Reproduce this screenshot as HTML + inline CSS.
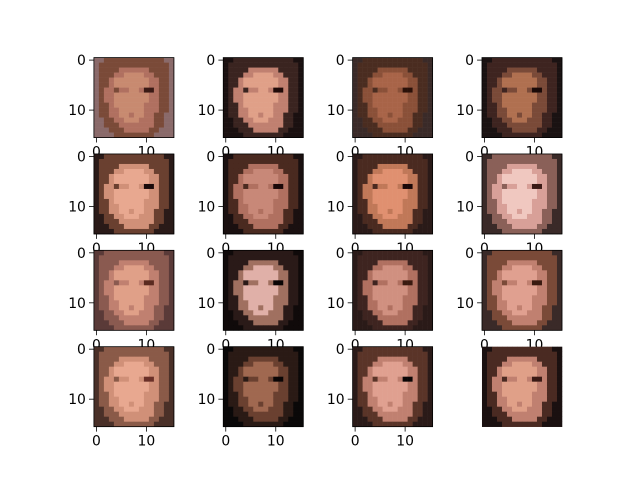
<!DOCTYPE html>
<html><head><meta charset="utf-8"><style>
body{margin:0;background:#fff}
svg text{font-family:"DejaVu Sans","Liberation Sans",sans-serif;font-size:13.9px;fill:#000}
</style></head><body>
<svg id="fig" width="640" height="480" viewBox="0 0 640 480" xmlns="http://www.w3.org/2000/svg">
<rect width="640" height="480" fill="#fff"/>
</svg>
<script>
const template=[
"bbhhhhhhhhhhhhbb",
"bhhhhhhhhhhhhhhb",
"bhhhhsssssshhhhb",
"bhhhssllllsshhhb",
"bhhslllllllsshhb",
"bhhslllllllsshhb",
"bhssdssllseeshhb",
"bhsslllllllsshhb",
"bhsslllllllsshhb",
"bhhsllllllssshhb",
"bhhsslllllssshhb",
"bhhssllmllsshhbb",
"bbhhsslllssshhbb",
"bbhhhssssssshhbb",
"bbbhhhssssshhbbb",
"bbbbhhhhhhhhbbbb"];
const bgColors=["#8a6a6a","#1a1010","#3a2a28","#1a1212","#2a1a18","#1a1010","#2a1a18","#3a2a28","#5a3a38","#100a0a","#2a1a18","#3a2a28","#4a3028","#0a0808","#2a1a18","#1a1010"];
const hairColors=["#7a4a38","#3a2420","#4a2c20","#3e2420","#6a4030","#4a2a20","#4a2a20","#8a6058","#8a5a50","#2a1a18","#3e2420","#7a4a38","#8a5a48","#2a1a15","#5a3428","#4a2a22"];
const skinColors=["#b07060","#c08070","#8a5038","#7a4a38","#d09078","#b07060","#c07858","#d8a098","#c08070","#a07060","#b07060","#c08070","#d09078","#6a4030","#c08070","#c08070"];
const lightColors=["#c88a70","#e0a088","#a86448","#b07050","#e8a890","#c88878","#e09070","#f0c8c0","#e0a088","#e0b0a8","#d09080","#e0a090","#e8a890","#a06850","#e0a090","#e0a088"];
const eyeColors=["#3a1a15","#200a08","#2a1008","#1a0a08","#1a0a0a","#1a0808","#1a0808","#3a1a15","#5a2a20","#0a0505","#3a1a10","#3a1a10","#6a3028","#0a0505","#0a0505","#3a1a15"];
const xTicks=[0,10];
const yTicks=[0,10];
const NS="http://www.w3.org/2000/svg";
const svg=document.getElementById('fig');
const axW=107.8,axH=80.3,left=80,top0=57.6,gapX=21.56,gapY=16.06;
const px=80/16;
function mk(t,a){const e=document.createElementNS(NS,t);for(const k in a)e.setAttribute(k,a[k]);svg.appendChild(e);return e;}
for(let i=0;i<16;i++){
  const r=Math.floor(i/4),c=i%4;
  const x0=left+c*(axW+gapX)+(axW-80)/2, y0=top0+r*(axH+gapY);
  const pal={b:bgColors[i],h:hairColors[i],s:skinColors[i],l:lightColors[i],e:eyeColors[i],m:skinColors[i],d:hairColors[i]};
  const g=document.createElementNS(NS,'g');svg.appendChild(g);
  
  
  for(let y=0;y<16;y++)for(let x=0;x<16;x++){
    const cell=document.createElementNS(NS,'rect');
    cell.setAttribute('x',x0+x*px);cell.setAttribute('y',y0+y*px);
    cell.setAttribute('width',px+0.3);cell.setAttribute('height',px+0.3);
    cell.setAttribute('fill',pal[template[y][x]]);
    
    
    g.appendChild(cell);
  }
  if(i===15)continue;
  const fr=mk('rect',{x:x0,y:y0,width:80,height:80,fill:'none',stroke:'#000','stroke-width':0.8});
  
  
  xTicks.forEach(v=>{
    const tx=x0+(v+0.5)*px;
    const l=mk('line',{x1:tx,y1:y0+80,x2:tx,y2:y0+84.9,stroke:'#000','stroke-width':0.8});
    
    
    const t=mk('text',{x:tx,y:y0+99,'text-anchor':'middle'});t.textContent=v;
    
    
  });
  yTicks.forEach(v=>{
    const ty=y0+(v+0.5)*px;
    const l=mk('line',{x1:x0-4.9,y1:ty,x2:x0,y2:ty,stroke:'#000','stroke-width':0.8});
    
    
    const t=mk('text',{x:x0-8,y:ty+5,'text-anchor':'end'});t.textContent=v;
    
    
  });
}
</script>
</body></html>
